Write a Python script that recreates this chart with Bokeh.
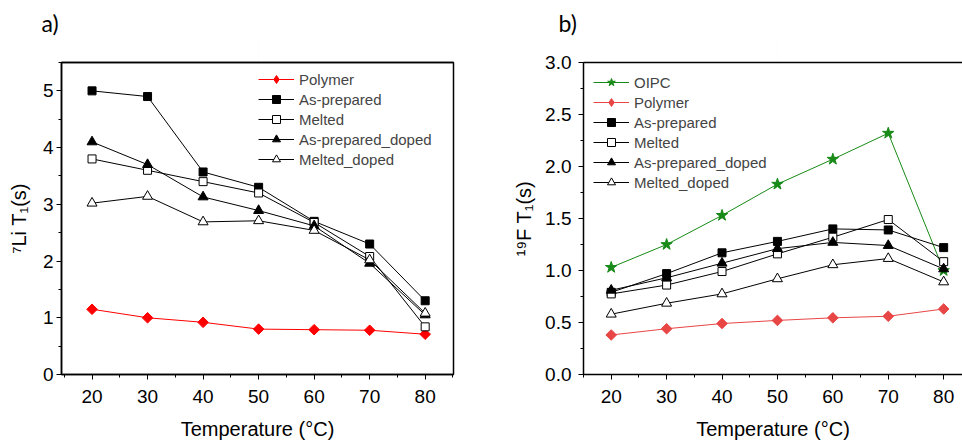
import numpy as np
from bokeh.plotting import figure
from bokeh.layouts import row
from bokeh.models import (Legend, LegendItem, LinearAxis, SingleIntervalTicker,
                          FixedTicker, NumeralTickFormatter, Range1d, Title)
from bokeh.embed import file_html
from bokeh.resources import INLINE

temps = [20, 30, 40, 50, 60, 70, 80]

# panel a) 7Li T1 (s)
li_polymer = [1.15, 1.00, 0.92, 0.80, 0.79, 0.78, 0.71]
li_asprep = [5.00, 4.90, 3.57, 3.30, 2.70, 2.30, 1.30]
li_melted = [3.80, 3.60, 3.40, 3.20, 2.68, 2.08, 0.84]
li_asprep_doped = [4.10, 3.70, 3.13, 2.89, 2.62, 1.96, 1.05]
li_melted_doped = [3.02, 3.14, 2.69, 2.71, 2.54, 2.02, 1.08]

# panel b) 19F T1 (s)
f_oipc = [1.03, 1.25, 1.53, 1.83, 2.07, 2.32, 1.00]
f_polymer = [0.38, 0.44, 0.49, 0.52, 0.545, 0.56, 0.63]
f_asprep = [0.79, 0.97, 1.17, 1.28, 1.40, 1.39, 1.22]
f_melted = [0.775, 0.86, 0.99, 1.16, 1.32, 1.49, 1.085]
f_asprep_doped = [0.81, 0.93, 1.07, 1.21, 1.27, 1.24, 1.015]
f_melted_doped = [0.58, 0.685, 0.775, 0.92, 1.055, 1.115, 0.89]

FONT = "Liberation Sans"


def add_series(p, items, x, y, marker, color, fill, size, label, angle=0.0):
    l = p.line(x, y, line_color=color, line_width=1)
    s = p.scatter(x, y, marker=marker, size=size, line_color=color,
                  fill_color=fill, line_width=1, angle=angle)
    rends = [l, s]
    if angle:
        # legend glyph cannot be rotated: use a diamond marker stand-in
        d = p.scatter(x=[np.nan], y=[np.nan], marker="diamond", size=size,
                      line_color=color, fill_color=fill)
        rends = [l, d]
    items.append(LegendItem(label=label, renderers=rends))


def style_axes(p, ylabel, yinterval, yfmt, ytick_standoff, ylabel_standoff):
    p.grid.visible = False
    p.xaxis.ticker = SingleIntervalTicker(interval=10, num_minor_ticks=2)
    p.yaxis.ticker = SingleIntervalTicker(interval=yinterval, num_minor_ticks=2)
    if yfmt:
        p.yaxis.formatter = NumeralTickFormatter(format=yfmt)
    for ax in (p.xaxis[0], p.yaxis[0]):
        ax.axis_line_color = "black"
        ax.axis_line_width = 1.5
        ax.major_tick_line_color = "black"
        ax.minor_tick_line_color = "black"
        ax.major_tick_in = 0
        ax.major_tick_out = 5
        ax.minor_tick_in = 0
        ax.minor_tick_out = 3
        ax.major_label_text_font = FONT
        ax.major_label_text_font_size = "19px"
        ax.major_label_text_color = "black"
        ax.axis_label_text_font = FONT
        ax.axis_label_text_font_size = "20px"
        ax.axis_label_text_font_style = "normal"
        ax.axis_label_text_color = "black"
    p.xaxis.axis_label = "Temperature (°C)"
    p.xaxis.major_label_standoff = 10
    p.xaxis.axis_label_standoff = 12
    p.yaxis.axis_label = ylabel
    p.yaxis.major_label_standoff = ytick_standoff
    p.yaxis.axis_label_standoff = ylabel_standoff


def make_legend(items, loc):
    return Legend(items=items, location=loc, padding=0, margin=0, spacing=0,
                  glyph_width=36, glyph_height=20, label_height=20,
                  label_standoff=5, label_text_font=FONT,
                  label_text_font_size="15px", background_fill_alpha=0,
                  border_line_color=None)


def top_axis(mid):
    # top frame line; an (invisible) long minor tick reserves room above it
    # so that the panel letter sits high in the top margin
    return LinearAxis(ticker=FixedTicker(ticks=[], minor_ticks=[mid]),
                      axis_line_width=1.5, axis_line_color="black",
                      major_tick_out=0, major_tick_in=0,
                      minor_tick_out=21, minor_tick_in=0,
                      minor_tick_line_color="black",
                      minor_tick_line_alpha=0.01, major_label_standoff=0)


def panel_title(p, text, offset):
    p.add_layout(Title(text=text, align="left", offset=offset, standoff=10,
                       text_font="Lato", text_font_size="23px",
                       text_font_style="normal", text_color="black"), "above")


# ---------------- panel a ----------------
pa = figure(width=481, height=442, x_range=Range1d(14.5, 85.1),
            y_range=Range1d(0, 5.5), output_backend="svg",
            toolbar_location=None, min_border_left=61, min_border_right=28,
            min_border_top=62, min_border_bottom=67)
pa.outline_line_color = "black"
pa.outline_line_width = 1.5
pa.outline_line_alpha = 1
style_axes(pa, "⁷Li T₁(s)", 1, None, 3, 10)
pa.add_layout(top_axis(50), "above")

items_a = []
add_series(pa, items_a, temps, li_polymer, "square", "#ff0000", "#ff0000",
           7.5, "Polymer", angle=np.pi / 4)
add_series(pa, items_a, temps, li_asprep, "square", "black", "black", 8,
           "As-prepared")
add_series(pa, items_a, temps, li_melted, "square", "black", "white", 8,
           "Melted")
add_series(pa, items_a, temps, li_asprep_doped, "triangle", "black", "black",
           10, "As-prepared_doped")
add_series(pa, items_a, temps, li_melted_doped, "triangle", "black", "white",
           10, "Melted_doped")
pa.add_layout(make_legend(items_a, (197, 205)))
panel_title(pa, "a)", -20)

# ---------------- panel b ----------------
pb = figure(width=481, height=442, x_range=Range1d(15, 83.4),
            y_range=Range1d(0, 3.0), output_backend="svg",
            toolbar_location=None, min_border_left=102, min_border_right=0,
            min_border_top=62, min_border_bottom=67)
pb.outline_line_color = None
style_axes(pb, "¹⁹F T₁(s)", 0.5, "0.0", 7, 7)
pb.add_layout(top_axis(50), "above")

items_b = []
add_series(pb, items_b, temps, f_oipc, "star", "#178a17", "#178a17", 12,
           "OIPC")
add_series(pb, items_b, temps, f_polymer, "square", "#e84545", "#e84545", 7.5,
           "Polymer", angle=np.pi / 4)
add_series(pb, items_b, temps, f_asprep, "square", "black", "black", 8,
           "As-prepared")
add_series(pb, items_b, temps, f_melted, "square", "black", "white", 8,
           "Melted")
add_series(pb, items_b, temps, f_asprep_doped, "triangle", "black", "black",
           10, "As-prepared_doped")
add_series(pb, items_b, temps, f_melted_doped, "triangle", "black", "white",
           10, "Melted_doped")
pb.add_layout(make_legend(items_b, (10, 182)))
panel_title(pb, "b)", -25)

layout = row(pa, pb, spacing=0)
open("out.html", "w").write(file_html(layout, INLINE))
